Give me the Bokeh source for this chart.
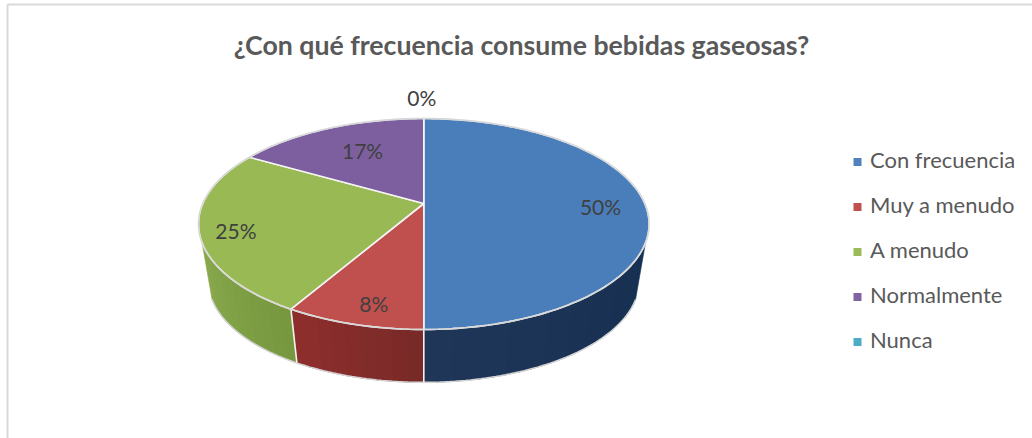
from math import sin, cos, pi
from bokeh.plotting import figure
from bokeh.embed import file_html
from bokeh.resources import INLINE
from bokeh.core.properties import value

TITLE = "¿Con qué frecuencia consume bebidas gaseosas?"
categories = ["Con frecuencia", "Muy a menudo", "A menudo", "Normalmente", "Nunca"]
values = [6, 1, 3, 2, 0]
percent_labels = ["50%", "8%", "25%", "17%", "0%"]

top_colors = ["#4A7EBB", "#C0504D", "#98B954", "#7D5FA0", "#4BACC6"]
legend_colors = ["#4F81BD", "#C0504D", "#9BBB59", "#8064A2", "#4BACC6"]
side_light = [(0x1F, 0x36, 0x58), (0x8E, 0x2E, 0x2C), (0x88, 0xA8, 0x4C), (0x60, 0x4A, 0x7B), (0x2F, 0x80, 0x95)]
side_dark = [(0x16, 0x30, 0x52), (0x78, 0x2A, 0x28), (0x78, 0x98, 0x40), (0x60, 0x4A, 0x7B), (0x2F, 0x80, 0x95)]

# projection of the tilted pie
CX, CY, RX, RY, K = 423.3, 203.0, 221.0, 101.5, 0.1944
BOTTOM_CY, BOTTOM_SCALE = 261.5, 0.955
# label placement: radius factor on the slice mid-angle, then a nudge in px
label_r = 0.7
label_nudge = [(22, 3), (-4, 21), (-33, 8), (8, 2), (-2, -13)]


def project(theta, r=1.0, cx=CX, cy=CY, scale=1.0):
    u, v = r * sin(theta), r * cos(theta)
    d = 1 + K * v
    return cx + scale * RX * u / d, cy - scale * RY * v / d


def arc(a0, a1, n=None, **kw):
    n = n or max(2, int(abs(a1 - a0) / (pi / 120)))
    return [project(a0 + (a1 - a0) * i / n, **kw) for i in range(n + 1)]


def shade(c0, c1, t):
    return "#%02x%02x%02x" % tuple(round(a + (b - a) * t) for a, b in zip(c0, c1))


total = sum(values)
bounds = [0.0]
for val in values:
    bounds.append(bounds[-1] + val / total * 2 * pi)

p = figure(width=1032, height=438, x_range=(0, 1032), y_range=(438, 0),
           output_backend="svg", toolbar_location=None, min_border=0,
           outline_line_color=None, background_fill_color="white")
p.axis.visible = False
p.grid.visible = False

# frame of the chart area
p.line([7, 7], [4, 438], line_color="#d9d9d9", line_width=2)
p.line([7, 1032], [4, 4], line_color="#d9d9d9", line_width=2)

# side wall: strips between the top rim and the lower rim
VIS0, VIS1 = pi * 0.617, pi * 1.383
for i, val in enumerate(values):
    a0, a1 = max(bounds[i], VIS0), min(bounds[i + 1], VIS1)
    if val == 0 or a1 <= a0:
        continue
    n = max(2, int((a1 - a0) / (pi / 60)))
    for j in range(n):
        s0 = a0 + (a1 - a0) * j / n
        s1 = a0 + (a1 - a0) * (j + 1) / n
        s1b = min(s1 + 0.01, a1)
        top = arc(s0, s1b, 3)
        bot = arc(s1b, s0, 3, cx=CX, cy=BOTTOM_CY, scale=BOTTOM_SCALE)
        col = shade(side_dark[i], side_light[i], j / max(1, n - 1))
        pts = top + bot
        p.patch([q[0] for q in pts], [q[1] for q in pts], fill_color=col, line_color=col, line_width=0.6)

# lower rim highlight
low = arc(VIS0, VIS1, 120, cx=CX, cy=BOTTOM_CY, scale=BOTTOM_SCALE)
p.line([q[0] for q in low], [q[1] for q in low], line_color="#d4d4d4", line_width=1.5)

# white edges on the wall where slices meet
for b in bounds[1:-1]:
    if VIS0 < b < VIS1:
        a = project(b)
        c = project(b, cx=CX, cy=BOTTOM_CY, scale=BOTTOM_SCALE)
        p.line([a[0], c[0]], [a[1], c[1]], line_color="#f2f2f2", line_width=1.6)

# top face
xs, ys, fills = [], [], []
for i, val in enumerate(values):
    if val == 0:
        continue
    pts = [(CX, CY)] + arc(bounds[i], bounds[i + 1])
    xs.append([q[0] for q in pts])
    ys.append([q[1] for q in pts])
    fills.append(top_colors[i])
p.patches(xs, ys, fill_color=fills, line_color="#f4f4f4", line_width=1.6)

rim = arc(0, 2 * pi, 240)
p.line([q[0] for q in rim], [q[1] for q in rim], line_color="#d8d8d8", line_width=1.6)

# percentage labels
lx, ly = [], []
for i in range(len(values)):
    mid = (bounds[i] + bounds[i + 1]) / 2
    if values[i] == 0:
        mid = 0.0
    px, py = project(mid, r=label_r if values[i] else 1.12)
    lx.append(px + label_nudge[i][0])
    ly.append(py + label_nudge[i][1])
p.text(lx, ly, text=percent_labels, text_font=value("Lato"), text_font_size="21px",
       text_color="#404040", text_align="center", text_baseline="middle")

# title
p.text([521], [44], text=[TITLE], text_font=value("Lato"), text_font_size="26.7px",
       text_font_style="bold", text_color="#595959", text_align="center", text_baseline="middle")

# legend
LEG_Y0, LEG_STEP = 161.5, 45.0
ly2 = [LEG_Y0 + LEG_STEP * i for i in range(len(categories))]
p.scatter([857] * len(categories), ly2, marker="square", size=8, fill_color=legend_colors, line_color=None)
p.text([869.5] * len(categories), [y - 2.5 for y in ly2], text=categories, text_font=value("Lato"),
       text_font_size="22px", text_color="#595959", text_align="left", text_baseline="middle")

open("out.html", "w").write(file_html(p, INLINE))
